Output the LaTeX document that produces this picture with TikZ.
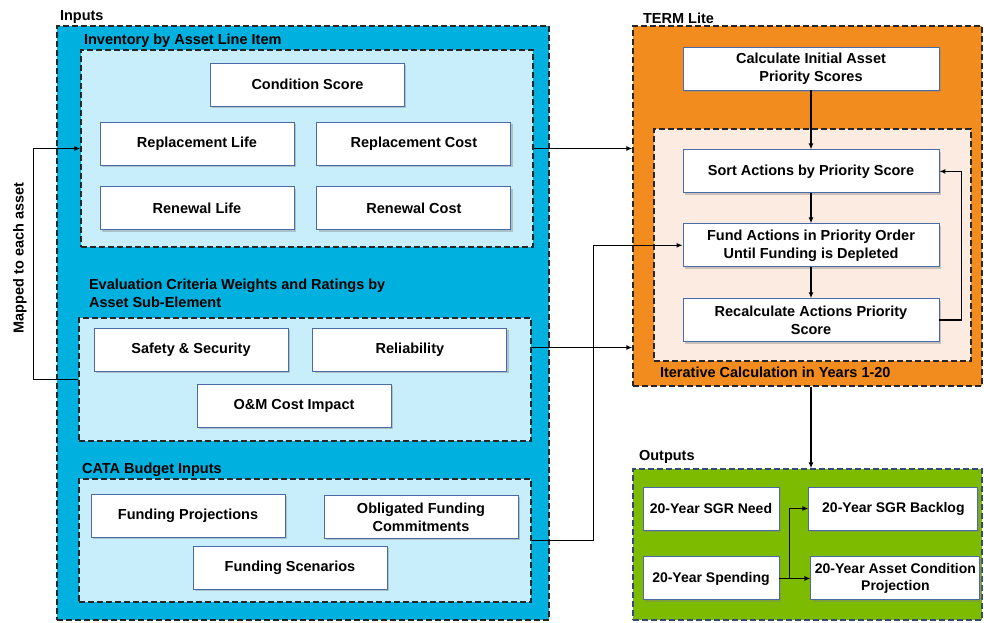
\documentclass[tikz,border=0pt]{standalone}
\usepackage{fontspec}
\setmainfont{Liberation Sans}
\usetikzlibrary{positioning,arrows.meta,shadows}
\definecolor{inputblue}{HTML}{00B0DE}
\definecolor{paleblue}{HTML}{C9EEFB}
\definecolor{termorange}{HTML}{F28C1E}
\definecolor{peach}{HTML}{FCEBE1}
\definecolor{outgreen}{HTML}{7DBB00}
\definecolor{boxedge}{HTML}{4A6BA6}
\tikzset{
    panel/.style = {
        draw = black!85,
        line width = 1.4pt,
        dash pattern = on 6pt off 3pt,
        inner sep = 0pt,
        },
    panel label/.style = {
        inner sep = 1pt,
        },
    entry/.style = {
        draw = boxedge,
        fill = white,
        line width = 0.9pt,
        align = center,
        minimum width = 194pt,
        minimum height = 43pt,
        inner sep = 1pt,
        drop shadow = {shadow xshift=1.8pt, shadow yshift=-1.8pt, opacity=0.4},
        },
    wide entry/.style = {
        entry,
        minimum width = 256pt,
        },
    output entry/.style = {
        entry,
        minimum width = 169pt,
        font = \fontsize{14}{17}\selectfont\bfseries,
        },
}
\begin{document}
\begin{tikzpicture}[x=1pt, y=-1pt, ->, >={Latex[length=6pt,width=5pt]},
    font=\fontsize{14.5}{18}\selectfont\bfseries, line width=1.5pt]
            \useasboundingbox (0,0) rectangle (984,622);

            % inputs side
            \node[panel, fill=inputblue, minimum width=492pt, minimum height=594pt] (inputs) at (303,323) {};
            \node[panel label, anchor=south west] (inputs label) at ([xshift=2pt]inputs.north west) {Inputs};

            \node[panel, fill=paleblue, minimum width=452pt, minimum height=197pt] (inv) at (307,148.5) {};
            \node[panel label, anchor=south west] (inv label) at ([xshift=2pt]inv.north west) {Inventory by Asset Line Item};
            \node[entry] (cond) at (307.5,84.5) {Condition Score};
            \node[entry] (rlife) at (197,143.5) {Replacement Life};
            \node[entry, right=22pt of rlife] (rcost) {Replacement Cost};
            \node[entry, below=21pt of rlife] (nlife) {Renewal Life};
            \node[entry, right=22pt of nlife] (ncost) {Renewal Cost};

            \node[panel, fill=paleblue, minimum width=452pt, minimum height=123pt] (eval) at (305,379.5) {};
            \node[panel label, anchor=south west, align=left] (eval label) at ([xshift=9pt, yshift=8pt]eval.north west) {Evaluation Criteria Weights and Ratings by\\Asset Sub-Element};
            \node[entry] (safety) at (191,349.5) {Safety \& Security};
            \node[entry, right=24pt of safety] (reliab) {Reliability};
            \node[entry] (om) at (294,406) {O\&M Cost Impact};

            \node[panel, fill=paleblue, minimum width=452pt, minimum height=123pt] (cata) at (305,540.5) {};
            \node[panel label, anchor=south west] (cata label) at ([xshift=2pt]cata.north west) {CATA Budget Inputs};
            \node[entry] (fproj) at (188,515.5) {Funding Projections};
            \node[entry] (oblig) at (421,517) {Obligated Funding\\Commitments};
            \node[entry] (fscen) at (290,568) {Funding Scenarios};

            \node[rotate=90] (mapped) at (20,258) {Mapped to each asset};

            % TERM Lite
            \node[panel, fill=termorange, minimum width=349pt, minimum height=360pt] (term) at (807.5,206) {};
            \node[panel label, anchor=south west] (term label) at ([xshift=9pt]term.north west) {TERM Lite};
            \node[panel, fill=peach, minimum width=317pt, minimum height=232pt] (iter) at (812.5,245) {};
            \node[panel label, anchor=north west] (iter label) at ([xshift=5pt, yshift=-4pt]iter.south west) {Iterative Calculation in Years 1-20};
            \node[wide entry] (calc) at (811,68.5) {Calculate Initial Asset\\Priority Scores};
            \node[wide entry, below=59pt of calc] (sort) {Sort Actions by Priority Score};
            \node[wide entry, below=30pt of sort] (fund) {Fund Actions in Priority Order\\Until Funding is Depleted};
            \node[wide entry, below=31pt of fund] (recalc) {Recalculate Actions Priority\\Score};

            % outputs
            \node[panel, draw=boxedge!70!black, fill=outgreen, minimum width=349pt, minimum height=151pt] (outputs) at (807.5,544.5) {};
            \node[panel label, anchor=south west] (outputs label) at ([xshift=5pt, yshift=3pt]outputs.north west) {Outputs};
            \node[output entry, minimum width=136pt] (need) at (711,508.5) {20-Year SGR Need};
            \node[output entry, minimum width=136pt, below=26pt of need] (spend) {20-Year Spending};
            \node[output entry, right=29pt of need] (backlog) {20-Year SGR Backlog};
            \node[output entry, right=31pt of spend] (proj) {20-Year Asset Condition\\Projection};

            % connectors
            \coordinate (eval out) at ([yshift=32pt]eval.east);
            \draw (eval.west) -- ++(-45,0) |- (inv.west);
            \draw (inv.east) -- (inv.east -| term.west);
            \draw (eval out) -- (eval out -| term.west);
            \draw (cata.east) -- ++(62,0) |- (fund.west);
            \path (calc) edge (sort);
            \path (sort) edge (fund);
            \path (fund) edge (recalc);
            \draw (recalc.east) -- ++(22,0) |- (sort.east);
            \draw (calc.south |- term.south) -- (calc.south |- outputs.north);
            \draw (spend.east) -- ++(10,0) |- (backlog.west);
            \draw (spend.east) -- (spend.east -| proj.west);
        \end{tikzpicture}
\end{document}
